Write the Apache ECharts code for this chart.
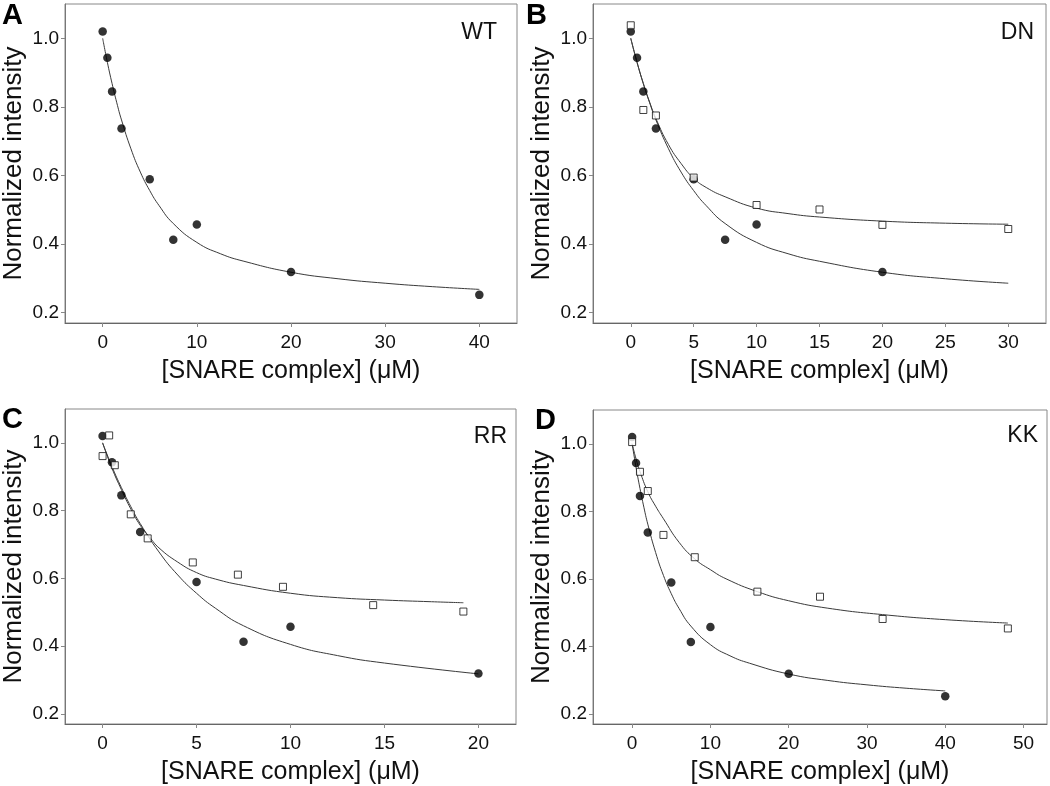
<!DOCTYPE html>
<html>
<head>
<meta charset="utf-8">
<script src="https://cdn.jsdelivr.net/npm/echarts@6/dist/echarts.min.js"></script>
<style>
html,body{margin:0;padding:0;background:#fff;}
#chart{width:1050px;height:786px;}
</style>
</head>
<body>
<div id="chart"></div>
<script>
// ---- data ----
// WT (filled circles), shown in every panel
const wtX = [0, 0.5, 1, 2, 5, 7.5, 10, 20, 40];
const wtY = [1.02, 0.943, 0.845, 0.737, 0.589, 0.413, 0.457, 0.319, 0.252];
// WT fitted curve
const wtFitX = [0, 0.5, 1, 1.5, 2, 3, 4, 5, 6, 7.5, 10, 12.5, 15, 20, 25, 30, 35, 40];
const wtFitY = [1.0, 0.93, 0.868, 0.812, 0.762, 0.678, 0.61, 0.556, 0.512, 0.46, 0.405, 0.372, 0.35, 0.318, 0.299, 0.286, 0.276, 0.268];

// DN (open squares)
const dnX = [0, 1, 2, 5, 10, 15, 20, 30];
const dnY = [1.038, 0.791, 0.775, 0.594, 0.514, 0.501, 0.456, 0.444];
const dnFitX = [0, 0.5, 1, 1.5, 2, 3, 4, 5, 6, 7.5, 10, 12.5, 15, 20, 25, 30];
const dnFitY = [1.0, 0.93, 0.868, 0.814, 0.766, 0.69, 0.635, 0.592, 0.565, 0.538, 0.505, 0.489, 0.479, 0.467, 0.461, 0.458];

// RR (open squares)
const rrX = [0, 0.35, 0.65, 1.5, 2.4, 4.8, 7.2, 9.6, 14.4, 19.2];
const rrY = [0.961, 1.022, 0.934, 0.789, 0.718, 0.647, 0.611, 0.575, 0.521, 0.502];
const rrFitX = [0, 0.5, 1, 1.5, 2, 2.5, 3, 4, 5, 6, 7.5, 10, 12.5, 15, 17.5, 19.2];
const rrFitY = [1.0, 0.925, 0.862, 0.805, 0.757, 0.722, 0.69, 0.648, 0.617, 0.598, 0.579, 0.556, 0.543, 0.536, 0.531, 0.528];

// KK (open squares)
const kkX = [0, 1, 2, 4, 8, 16, 24, 32, 48];
const kkY = [1.005, 0.917, 0.86, 0.73, 0.664, 0.562, 0.547, 0.481, 0.453];
const kkFitX = [0, 0.5, 1, 2, 3, 4, 6, 8, 10, 12, 16, 20, 25, 32, 40, 48];
const kkFitY = [1.0, 0.955, 0.918, 0.858, 0.815, 0.778, 0.708, 0.659, 0.627, 0.6, 0.562, 0.535, 0.513, 0.494, 0.479, 0.469];

// tick labels
const yTicks = [0.2, 0.4, 0.6, 0.8, 1.0];
const xTicksA = [0, 10, 20, 30, 40];
const xTicksB = [0, 5, 10, 15, 20, 25, 30];
const xTicksC = [0, 5, 10, 15, 20];
const xTicksD = [0, 10, 20, 30, 40, 50];

const panelLetters = ['A', 'B', 'C', 'D'];
const variantNames = ['WT', 'DN', 'RR', 'KK'];
const xName = '[SNARE complex] (\u03BCM)';
const yName = 'Normalized intensity';

// ---- chart ----
const FONT = '"Liberation Sans", Arial, Helvetica, sans-serif';
const pairs = (xs, ys) => xs.map((x, i) => [x, ys[i]]);
const upTo = (xs, ys, lim) => pairs(xs, ys).filter(p => p[0] <= lim + 1e-9);

const grids = [
  {left: 63, top: 4, width: 454, height: 319},
  {left: 593, top: 4, width: 453, height: 319},
  {left: 62, top: 409, width: 454, height: 320},
  {left: 593, top: 410, width: 454, height: 320}
];
const xRanges = [[-4, 44], [-3, 33], [-2, 22], [-5, 53]];
const xTickSets = [xTicksA, xTicksB, xTicksC, xTicksD];

const xAxes = grids.map((g, i) => ({
  type: 'value', gridIndex: i, min: xRanges[i][0], max: xRanges[i][1],
  name: xName, nameLocation: 'middle', nameGap: 36,
  nameTextStyle: {fontFamily: FONT, fontSize: 25, color: '#111'},
  axisLine: {show: true, onZero: false, lineStyle: {color: '#666', width: 1}},
  axisTick: {show: true, length: 4, inside: false, customValues: xTickSets[i], lineStyle: {color: '#888'}},
  axisLabel: {customValues: xTickSets[i], fontFamily: FONT, fontSize: 19, color: '#111', margin: 10,
              formatter: v => String(v)},
  splitLine: {show: false}
}));
const yAxes = grids.map((g, i) => ({
  type: 'value', gridIndex: i, min: 0.17, max: 1.1,
  name: yName, nameLocation: 'middle', nameGap: 38, nameRotate: 90,
  nameTextStyle: {fontFamily: FONT, fontSize: 26, color: '#111'},
  axisLine: {show: true, onZero: false, lineStyle: {color: '#777', width: 1}},
  axisTick: {show: true, length: 4, inside: false, customValues: yTicks, lineStyle: {color: '#888'}},
  axisLabel: {customValues: yTicks, fontFamily: FONT, fontSize: 19, color: '#111', margin: 6,
              formatter: v => v.toFixed(1)},
  splitLine: {show: false}
}));

function fitLine(i, data) {
  return {type: 'line', xAxisIndex: i, yAxisIndex: i, data: data, showSymbol: false, symbol: 'none',
          smooth: 0.5, lineStyle: {color: '#3a3a3a', width: 1}, z: 2, silent: true};
}
function circles(i, data) {
  return {type: 'scatter', xAxisIndex: i, yAxisIndex: i, data: data, symbol: 'circle', symbolSize: 8.5,
          itemStyle: {color: '#000'}, z: 4, silent: true};
}
function squares(i, data) {
  return {type: 'scatter', xAxisIndex: i, yAxisIndex: i, data: data, symbol: 'rect', symbolSize: 7,
          itemStyle: {color: '#fff', borderColor: '#111', borderWidth: 1}, z: 5, silent: true};
}

const series = [
  fitLine(0, upTo(wtFitX, wtFitY, 40)), circles(0, pairs(wtX, wtY)),
  fitLine(1, upTo(wtFitX, wtFitY, 30)), fitLine(1, pairs(dnFitX, dnFitY)),
  circles(1, upTo(wtX, wtY, 30)), squares(1, pairs(dnX, dnY)),
  fitLine(2, upTo(wtFitX, wtFitY, 20)), fitLine(2, pairs(rrFitX, rrFitY)),
  circles(2, upTo(wtX, wtY, 20)), squares(2, pairs(rrX, rrY)),
  fitLine(3, upTo(wtFitX, wtFitY, 40)), fitLine(3, pairs(kkFitX, kkFitY)),
  circles(3, upTo(wtX, wtY, 40)), squares(3, pairs(kkX, kkY))
];

const letterPos = [[2, 1], [526, 1], [2, 405], [535, 406]];
const namePos = [[497, 21], [1034, 21], [507, 425], [1038, 424]];
const graphics = [];
panelLetters.forEach((t, i) => graphics.push({
  type: 'text', x: letterPos[i][0], y: letterPos[i][1],
  style: {text: t, font: 'bold 29px ' + FONT, fill: '#000', align: 'left', verticalAlign: 'top'}
}));
variantNames.forEach((t, i) => graphics.push({
  type: 'text', x: namePos[i][0], y: namePos[i][1],
  style: {text: t, font: '23px ' + FONT, fill: '#111', align: 'right', verticalAlign: 'top'}
}));

const chart = echarts.init(document.getElementById('chart'), null, {renderer: 'canvas'});
chart.setOption({
  animation: false,
  backgroundColor: '#fff',
  grid: grids.map(g => Object.assign({show: true, borderColor: '#888', borderWidth: 1, backgroundColor: 'transparent'}, g)),
  xAxis: xAxes,
  yAxis: yAxes,
  series: series,
  graphic: graphics
});
</script>
</body>
</html>
